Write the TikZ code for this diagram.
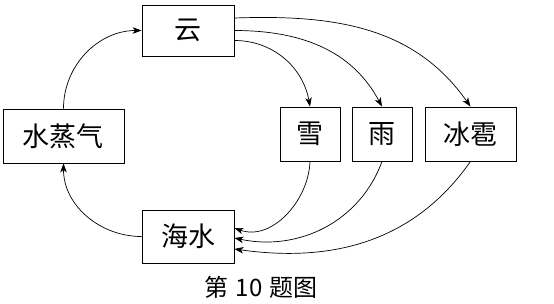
\documentclass[tikz,border=0pt]{standalone}
\usepackage{fontspec}
\newfontfamily\cjk{Noto Sans CJK SC}
\usetikzlibrary{arrows.meta}
\begin{document}
\begin{tikzpicture}[x=1pt,y=-1pt,
  box/.style={draw, line width=0.8pt, inner sep=0pt, minimum height=54pt, font=\cjk\fontsize{27}{27}\selectfont},
  flow/.style={line width=0.7pt, -{Stealth[length=9pt,width=6.5pt,inset=2.5pt]}}]
\useasboundingbox (0,0) rectangle (554,303);
\node[box, minimum width=92pt, minimum height=51pt] (yun) at (188,30.5) {云};
\node[box, minimum width=121pt] (zq) at (63.5,136) {水蒸气};
\node[box, minimum width=60pt] (xue) at (310,134) {雪};
\node[box, minimum width=60pt] (yu) at (382,134) {雨};
\node[box, minimum width=91pt] (bb) at (470.5,134) {冰雹};
\node[box, minimum width=92pt, minimum height=53pt] (hs) at (188,236.5) {海水};
\node[font=\cjk\fontsize{24}{24}\selectfont] (cap) at (261,287) {第\hspace{0.3em}10\hspace{0.3em}题图};
\draw[flow] (zq.north) to[out=90,in=180] (yun.west);
\draw[flow] ([yshift=-10pt]yun.east) to[out=0,in=100] (xue.north);
\draw[flow] ([yshift=0pt]yun.east) to[out=0,in=118] (yu.north);
\draw[flow] ([yshift=12.5pt]yun.east) to[out=2,in=125] (bb.north);
\draw[flow] (xue.south) to[out=-92,in=-20] ([yshift=8.5pt]hs.east);
\draw[flow] (yu.south) to[out=-110,in=-12] ([yshift=-1.5pt]hs.east);
\draw[flow] (bb.south) to[out=-125,in=-8] ([yshift=-12.5pt]hs.east);
\draw[flow] (hs.west) to[out=180,in=-90] (zq.south);
\end{tikzpicture}
\end{document}
